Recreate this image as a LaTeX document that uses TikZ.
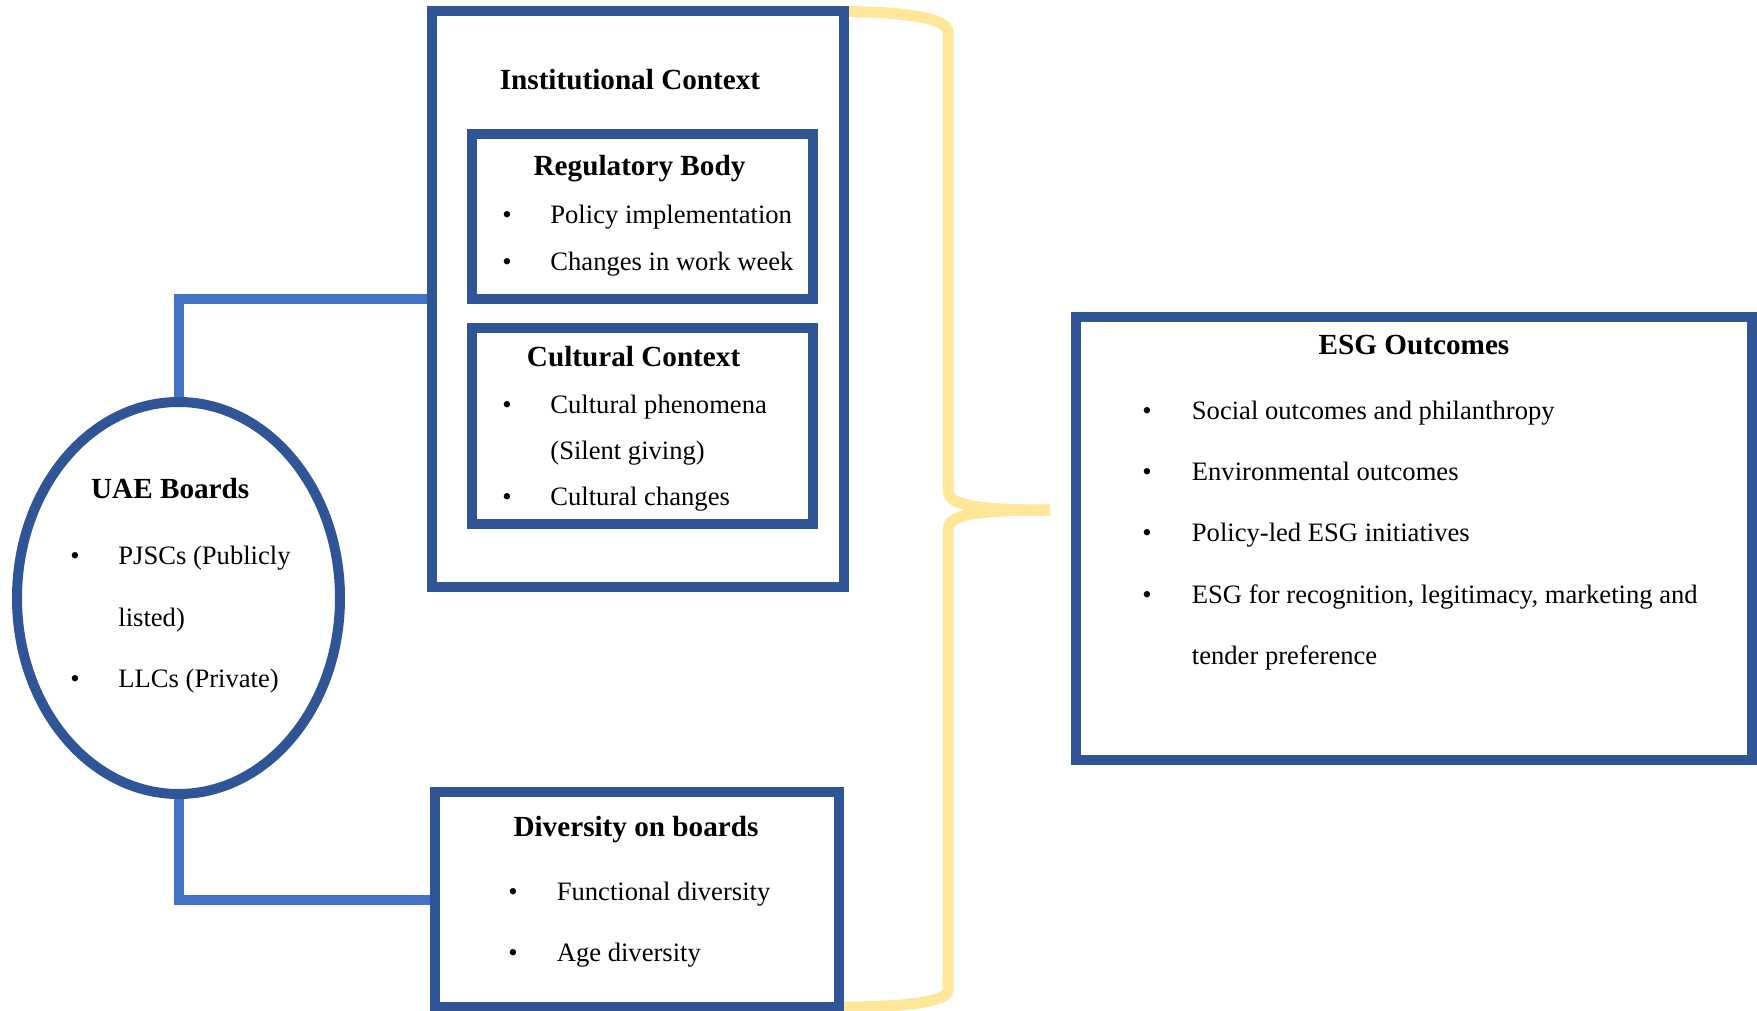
\documentclass[tikz,border=0pt]{standalone}
\usepackage{fontspec}
\setmainfont{Liberation Serif}
\usetikzlibrary{shapes.geometric,backgrounds}
\definecolor{boxblue}{HTML}{2F5597}
\definecolor{linkblue}{HTML}{4472C4}
\definecolor{braceyellow}{HTML}{FFE699}
\begin{document}
\begin{tikzpicture}[x=0.5pt,y=-0.5pt,
  frame/.style={draw=boxblue, line width=5pt, rectangle, inner sep=0pt, outer sep=0pt, fill=white},
  oval/.style={draw=boxblue, line width=5pt, ellipse, inner sep=0pt, outer sep=0pt, fill=white},
  link/.style={draw=linkblue, line width=5pt},
  bracepath/.style={draw=braceyellow, line width=5.5pt},
  head/.style={anchor=base, inner sep=0pt, font=\fontsize{14.6pt}{17pt}\selectfont\bfseries},
  headw/.style={anchor=base west, inner sep=0pt, font=\fontsize{14.6pt}{17pt}\selectfont\bfseries},
  item/.style={anchor=base west, inner sep=0pt, font=\fontsize{13.3pt}{16pt}\selectfont},
  dot/.style={anchor=base, inner sep=0pt, font=\fontsize{13.3pt}{16pt}\selectfont}]

\useasboundingbox (0,0) rectangle (1757,1011);

% boxes
\node[frame, minimum width=206pt, minimum height=287.75pt] (inst) at (638,299.25) {};
\node[frame, minimum width=170.35pt, minimum height=82.25pt] (reg) at (642.35,216.75) {};
\node[frame, minimum width=170.35pt, minimum height=97.75pt] (cult) at (642.35,425.75) {};
\node[frame, minimum width=202pt, minimum height=107.5pt] (div) at (637,899.5) {};
\node[frame, minimum width=338pt, minimum height=221.5pt] (esg) at (1414,538.5) {};
\node[oval, minimum width=161.5pt, minimum height=196pt] (uae) at (178.5,598) {};

% connectors and brace behind
\begin{pgfonlayer}{background}
\draw[link] (uae.north) |- (inst.west);
\draw[link] (uae.south) |- (div.west);
\coordinate (btip) at (1050,510);
\draw[bracepath] (inst.north east) .. controls (905,12) and (948,18) .. (948,32)
   -- (948,490) .. controls (948,504) and (968,510) .. (btip);
\draw[bracepath] (btip) .. controls (968,510) and (948,516) .. (948,530)
   -- (948,990) .. controls (948,1002) and (905,1007) .. (div.south east);
\end{pgfonlayer}

% Institutional context
\node[head] (instT) at (630,90) {Institutional Context};
\node[head] (regT) at (639.5,176) {Regulatory Body};
\node[dot] (regB1) at (507,223) {•};
\node[item] (reg1) at (550,223) {Policy implementation};
\node[dot] (regB2) at (507,270) {•};
\node[item] (reg2) at (550,270) {Changes in work week};
\node[head] (cultT) at (633.6,366) {Cultural Context};
\node[dot] (cultB1) at (507,413.6) {•};
\node[item] (cult1) at (550,413.6) {Cultural phenomena};
\node[item] (cult2) at (550,459.6) {(Silent giving)};
\node[dot] (cultB3) at (507,505.5) {•};
\node[item] (cult3) at (550,505.5) {Cultural changes};

% UAE boards
\node[headw] (uaeT) at (90.7,498) {UAE Boards};
\node[dot] (uaeB1) at (75,564) {•};
\node[item] (uae1) at (118,564) {PJSCs (Publicly};
\node[item] (uae2) at (118,626) {listed)};
\node[dot] (uaeB3) at (75,687) {•};
\node[item] (uae3) at (118,687) {LLCs (Private)};

% Diversity
\node[head] (divT) at (636,836) {Diversity on boards};
\node[dot] (divB1) at (513,900) {•};
\node[item] (div1) at (556.4,900) {Functional diversity};
\node[dot] (divB2) at (513,961.7) {•};
\node[item] (div2) at (556.4,961.7) {Age diversity};

% ESG
\node[head] (esgT) at (1414,354) {ESG Outcomes};
\node[dot] (esgB1) at (1147,419) {•};
\node[item] (esg1) at (1191.5,419) {Social outcomes and philanthropy};
\node[dot] (esgB2) at (1147,480) {•};
\node[item] (esg2) at (1191.5,480) {Environmental outcomes};
\node[dot] (esgB3) at (1147,541.5) {•};
\node[item] (esg3) at (1191.5,541.5) {Policy-led ESG initiatives};
\node[dot] (esgB4) at (1147,603) {•};
\node[item] (esg4) at (1191.5,603) {ESG for recognition, legitimacy, marketing and};
\node[item] (esg5) at (1191.5,664.5) {tender preference};
\end{tikzpicture}
\end{document}
